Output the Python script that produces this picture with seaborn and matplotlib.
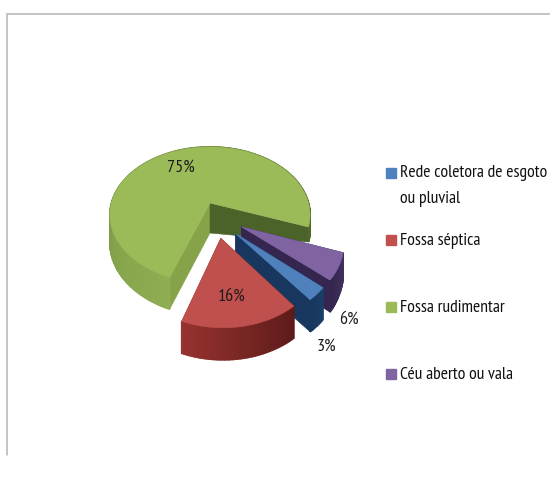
import numpy as np
import matplotlib
matplotlib.use("Agg")
import matplotlib.pyplot as plt
from matplotlib.colors import to_rgb
from matplotlib.lines import Line2D
import seaborn as sns

# Sewage destination shares, in percent
categories = ["Rede coletora de esgoto\nou pluvial", "Fossa séptica",
              "Fossa rudimentar", "Céu aberto ou vala"]
percents = [3, 16, 75, 6]

sns.set_theme(style="white")
plt.rcParams["font.family"] = ["PT Sans Narrow", "Liberation Sans", "DejaVu Sans"]

top_colors = sns.color_palette(["#4F81BD", "#C0504D", "#9BBB59", "#8064A2"])

# Perspective model of the pie plate, in figure pixels
CX, CY, A, B, K = 210.0, 203.0, 98.5, 65.9, 0.176
START_ANGLE = 20.0  # first slice edge, clockwise from the right on screen


def project(u, v):
    denom = 1 - K * v
    return CX + A * u / denom, CY + B * v / denom


# Per-slice look: explosion offset, radius, wall colours and height along the sweep
styles = {
    categories[3]: dict(off=(0.30, 0.34), r=0.95, depth=(27, 32), apex=30,
                        outer=("#43325f", "#35264f"), near="#3a2a63", far="#35264f"),
    categories[0]: dict(off=(0.24, 0.43), r=0.93, depth=(32, 32), apex=32,
                        outer=("#1b3f6a", "#17375e"), near="#173a66", far="#17375e"),
    categories[1]: dict(off=(0.10, 0.49), r=0.93, depth=(32, 32), apex=32,
                        outer=("#5c1b19", "#96322f"), near="#5c1b19", far="#7a2523"),
    categories[2]: dict(off=(0.0, 0.0), r=1.0, depth=None, apex=30,
                        outer=("#8fae52", "#4f6a28"), near="#86a34a", far="#4b6229"),
}


def mix(c1, c2, t):
    a, b = np.array(to_rgb(c1)), np.array(to_rgb(c2))
    return tuple(a + (b - a) * t)


def draw_rim(ax, xs, ys_top, ys_bot, c1, c2, z):
    n = len(xs) - 1
    for i in range(n):
        col = mix(c1, c2, i / max(n - 1, 1))
        ax.fill([xs[i], xs[i + 1], xs[i + 1], xs[i]],
                [ys_top[i], ys_top[i + 1], ys_bot[i + 1], ys_bot[i]],
                color=col, lw=1.2, zorder=z)


def draw_slice(ax, name, pct, top_color, a0, z):
    st = styles[name]
    a1 = a0 + pct * 3.6
    th = np.radians(np.linspace(a0, a1, max(int(pct * 3), 12)))
    ou, ov = st["off"]
    x, y = project(ou + st["r"] * np.cos(th), ov + st["r"] * np.sin(th))
    px, py = project(ou, ov)

    if st["depth"] is None:
        # Wall height shrinks toward the far right of the large slice
        d = np.interp(np.degrees(th), [a0, a0 + 70, a0 + 180, a1], [32, 27, 27, 15])
    else:
        d = np.linspace(st["depth"][0], st["depth"][1], len(th))

    # Radial faces behind, then the curved rim, then the top surface
    for xe, ye, de, col in ((x[0], y[0], d[0], st["near"]), (x[-1], y[-1], d[-1], st["far"])):
        ax.fill([px, xe, xe, px], [py, ye, ye + de, py + st["apex"]],
                color=col, lw=0.4, zorder=z)
    draw_rim(ax, x, y, y + d, st["outer"][0], st["outer"][1], z + 1)
    ax.fill(np.r_[px, x], np.r_[py, y], color=top_color, lw=0.4, zorder=z + 2)


fig = plt.figure(figsize=(5.5, 4.84), dpi=100, facecolor="white")
ax = fig.add_axes([0, 0, 1, 1])
ax.set_xlim(0, 550)
ax.set_ylim(484, 0)
ax.axis("off")

# Chart area frame
ax.plot([7, 7, 550], [455, 14, 14], color="#b4b4b4", lw=1.1, solid_joinstyle="miter")

# Slice sweep follows the legend order, clockwise on screen, after the last category
sweep = {}
a = START_ANGLE
for idx in (3, 0, 1, 2):
    sweep[idx] = a
    a += percents[idx] * 3.6

for z, idx in enumerate((2, 3, 0, 1)):
    draw_slice(ax, categories[idx], percents[idx], top_colors[idx], sweep[idx], 2 + z * 3)

# Value labels
label_pos = [(326, 347), (232, 297), (181, 168), (349, 320)]
for pct, (lx, ly) in zip(percents, label_pos):
    ax.text(lx, ly, f"{pct}%", ha="center", va="center", fontsize=13,
            color="#1c1c1c", zorder=100)

# Legend column
legend_rows = [173, 240, 307, 374]
for name, col, ly in zip(categories, top_colors, legend_rows):
    ax.add_line(Line2D([391], [ly], marker="s", ms=6.5, color=col, ls="none", zorder=100))
    two_lines = "\n" in name
    ax.text(400, ly - 8 if two_lines else ly + 1, name, ha="left",
            va="top" if two_lines else "center",
            fontsize=12.7, color="#111111", linespacing=1.85, zorder=100)

fig.savefig("out.png", dpi=100, facecolor="white")
